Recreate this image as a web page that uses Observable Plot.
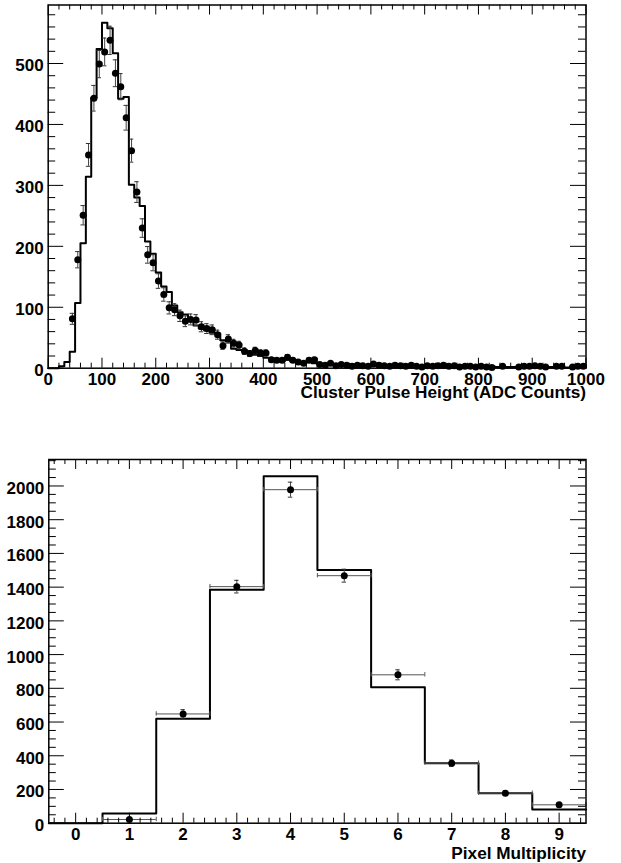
<!DOCTYPE html>
<html><head><meta charset="utf-8">
<script src="https://cdn.jsdelivr.net/npm/d3@7"></script>
<script src="https://cdn.jsdelivr.net/npm/@observablehq/plot@0.6"></script>
<style>
html,body{margin:0;padding:0;background:#fff;}
#c{width:621px;height:863px;overflow:hidden;}
#c svg{display:block;}
</style></head><body><div id="c"></div>
<script>
// ---- Top panel: cluster pulse height (bins of 10 ADC counts, 0..1000) ----
const phBinWidth = 10;
const phMC = [
  0, 0, 3, 10, 27, 107, 205, 314, 444, 524,
  567, 558, 517, 442, 445, 301, 280, 266, 208, 188,
  157, 134, 125, 103, 92, 88, 80, 70, 65, 62,
  58, 57, 46, 44, 32, 30, 29, 27, 22, 20,
  17, 16, 14, 12, 14, 11, 10, 9, 10, 8,
  7, 6, 6, 7, 5, 5, 6, 5, 4, 5,
  7, 6, 4, 4, 5, 4, 3, 4, 3, 4,
  4, 3, 3, 4, 3, 3, 2, 3, 3, 2,
  3, 2, 3, 2, 2, 2, 2, 1, 2, 2,
  2, 1, 2, 2, 1, 2, 1, 2, 1, 2
];
const phData = [
  null, null, null, null, 81, 178, 251, 350, 443, 499,
  519, 538, 484, 462, 411, 357, 289, 230, 186, 173,
  143, 121, 99, 96, 86, 77, 80, 79, 68, 65,
  63, 55, 37, 48, 41, 38, 28, 24, 29, 25,
  25, 14, 13, 13, 18, 13, 10, 8, 13, 14,
  6, 5, 8, 4, 6, 5, 3, 5, 4, 3,
  7, 5, 4, 3, 5, 4, 3, 5, 3, 2,
  4, 3, 4, 5, 3, 4, 2, 3, 3, 2,
  3, 2, 1, null, 3, null, null, 2, 3, 3,
  4, 3, 2, null, 3, 3, null, 2, 3, 3
];
const phXTicks = [0, 100, 200, 300, 400, 500, 600, 700, 800, 900, 1000];
const phYTicks = [0, 100, 200, 300, 400, 500];
const phTitle = "Cluster Pulse Height (ADC Counts)";

// ---- Bottom panel: pixel multiplicity ----
const multBins = [0, 1, 2, 3, 4, 5, 6, 7, 8, 9];
const multMC = [0, 57, 619, 1385, 2057, 1502, 806, 356, 178, 81];
const multData = [null, 22, 648, 1403, 1978, 1468, 880, 356, 178, 109];
const multXTicks = [0, 1, 2, 3, 4, 5, 6, 7, 8, 9];
const multYTicks = [0, 200, 400, 600, 800, 1000, 1200, 1400, 1600, 1800, 2000];
const multTitle = "Pixel Multiplicity";

const FONT = "'Liberation Sans', Arial, Helvetica, sans-serif";

function minorTicks(domain, step, majors) {
  const out = [];
  const k0 = Math.ceil(domain[0] / step - 1e-9), k1 = Math.floor(domain[1] / step + 1e-9);
  for (let k = k0; k <= k1; k++) {
    const v = +(k * step).toFixed(6);
    if (!majors.some(m => Math.abs(m - v) < 1e-6)) out.push(v);
  }
  return out;
}

function panel(o) {
  const plotW = o.width - o.ml - o.mr, plotH = o.height - o.mt - o.mb;
  const pxX = plotW / (o.xDomain[1] - o.xDomain[0]);
  const pxY = plotH / (o.yDomain[1] - o.yDomain[0]);
  const capX = 2.2 / pxX, capY = 2.2 / pxY;
  const xMinor = minorTicks(o.xDomain, o.xMinorStep, o.xMajor);
  const yMinor = minorTicks([o.yDomain[0], o.yDomain[1]], o.yMinorStep, o.yMajor);
  const pts = o.pts.filter(d => d.c != null).map(d => ({...d, e: Math.sqrt(d.c)}));
  const marks = [
    Plot.line(o.hist, {x: "x", y: "c", curve: "step-after", stroke: "black", strokeWidth: 2}),
  ];
  if (o.xErr) {
    marks.push(
      Plot.ruleY(pts, {y: "c", x1: d => d.x - o.xErr, x2: d => d.x + o.xErr, stroke: "#555", strokeWidth: 1}),
      Plot.ruleX(pts, {x: d => d.x - o.xErr, y1: d => d.c - capY, y2: d => d.c + capY, stroke: "#555", strokeWidth: 1}),
      Plot.ruleX(pts, {x: d => d.x + o.xErr, y1: d => d.c - capY, y2: d => d.c + capY, stroke: "#555", strokeWidth: 1})
    );
  }
  marks.push(
    Plot.ruleX(pts, {x: "x", y1: d => d.c - d.e, y2: d => d.c + d.e, stroke: "#444", strokeWidth: 1}),
    Plot.ruleY(pts, {y: d => d.c + d.e, x1: d => d.x - capX, x2: d => d.x + capX, stroke: "#333", strokeWidth: 1}),
    Plot.ruleY(pts, {y: d => d.c - d.e, x1: d => d.x - capX, x2: d => d.x + capX, stroke: "#333", strokeWidth: 1}),
    Plot.dot(pts, {x: "x", y: "c", r: 3.5, fill: "black", stroke: null}),
    // ticks (inside the frame, ROOT style)
    Plot.ruleX(o.xMajor, {x: d => d, insetTop: plotH - 10, stroke: "black"}),
    Plot.ruleX(o.xMajor, {x: d => d, insetBottom: plotH - 10, stroke: "black"}),
    Plot.ruleX(xMinor, {x: d => d, insetTop: plotH - 5, stroke: "black"}),
    Plot.ruleX(xMinor, {x: d => d, insetBottom: plotH - 5, stroke: "black"}),
    Plot.ruleY(o.yMajor, {y: d => d, insetRight: plotW - 15.5, stroke: "black"}),
    Plot.ruleY(o.yMajor, {y: d => d, insetLeft: plotW - 15.5, stroke: "black"}),
    Plot.ruleY(yMinor, {y: d => d, insetRight: plotW - 7.5, stroke: "black"}),
    Plot.ruleY(yMinor, {y: d => d, insetLeft: plotW - 7.5, stroke: "black"}),
    Plot.frame({stroke: "black", strokeWidth: 1.5}),
    Plot.axisX(o.xMajor, {tickSize: 0, tickPadding: 5, fontSize: 17, fontWeight: "bold", tickFormat: d => String(d), label: null}),
    Plot.axisY(o.yMajor, {tickSize: 0, tickPadding: 4.5, dy: 2.5, fontSize: 17, fontWeight: "bold", tickFormat: d => String(d), label: null}),
    Plot.text([o.title], {text: d => d, frameAnchor: "bottom-right", dy: o.titleDy, textAnchor: "end", lineAnchor: "middle", fontSize: 17.2, fontWeight: "bold", fill: "black"})
  );
  return Plot.plot({
    width: o.width, height: o.height,
    marginTop: o.mt, marginBottom: o.mb, marginLeft: o.ml, marginRight: o.mr,
    style: {fontFamily: FONT, fontSize: "17px", background: "white", color: "black"},
    x: {domain: o.xDomain, axis: null},
    y: {domain: o.yDomain, axis: null},
    marks
  });
}

// Build histogram outline points (bin edges) and data points (bin centres)
const phHist = phMC.map((c, i) => ({x: i * phBinWidth, c}));
phHist.push({x: phMC.length * phBinWidth, c: phMC[phMC.length - 1]});
const phPts = phData.map((c, i) => ({x: i * phBinWidth + phBinWidth / 2, c}));

const multHist = multBins.map((b, i) => ({x: b - 0.5, c: multMC[i]}));
multHist.push({x: multBins[multBins.length - 1] + 0.5, c: multMC[multMC.length - 1]});
const multPts = multBins.map((b, i) => ({x: b, c: multData[i]}));

const topChart = panel({
  width: 621, height: 430, mt: 4.5, mb: 62.3, ml: 47.7, mr: 35.5,
  xDomain: [0, 1000], yDomain: [0, 596],
  xMajor: phXTicks, xMinorStep: 20, yMajor: phYTicks, yMinorStep: 20,
  hist: phHist, pts: phPts, title: phTitle, titleDy: 24, xErr: 0
});
const bottomChart = panel({
  width: 621, height: 433, mt: 29, mb: 40.3, ml: 48.3, mr: 35.5,
  xDomain: [-0.5, 9.5], yDomain: [0, 2157],
  xMajor: multXTicks, xMinorStep: 0.2, yMajor: multYTicks, yMinorStep: 50,
  hist: multHist, pts: multPts, title: multTitle, titleDy: 30, xErr: 0.5
});
const container = document.getElementById("c");
container.appendChild(topChart);
container.appendChild(bottomChart);
</script>
</body></html>
